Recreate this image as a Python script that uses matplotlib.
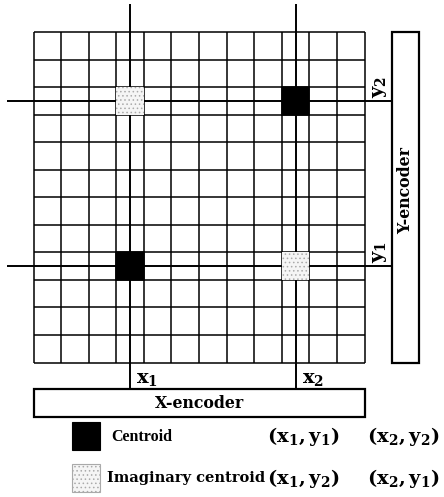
import matplotlib
matplotlib.use("Agg")
import matplotlib.pyplot as plt
from matplotlib.patches import Rectangle

plt.rcParams['mathtext.fontset'] = 'dejavuserif'
plt.rcParams['hatch.linewidth'] = 0.6

# ---- data ----
n_cols = 12
n_rows = 12
x_cols = [3, 9]          # column index of x1, x2
y_rows = [8, 2]          # row index (from top) of y1, y2
centroids = [(0, 0), (1, 1)]      # (x index, y index): (x1,y1), (x2,y2)
imaginary = [(0, 1), (1, 0)]      # (x1,y2), (x2,y1)
legend_labels = ['Centroid', 'Imaginary centroid']
legend_pairs = [[r'$\mathbf{(x_1,y_1)}$', r'$\mathbf{(x_2,y_2)}$'],
                [r'$\mathbf{(x_1,y_2)}$', r'$\mathbf{(x_2,y_1)}$']]

# ---- layout ----
W, H = 444, 497
fig = plt.figure(figsize=(W / 100, H / 100), dpi=100)
ax = fig.add_axes([0, 0, 1, 1])
ax.set_xlim(0, W)
ax.set_ylim(H, 0)
ax.axis('off')

gx0, gy0 = 33.5, 32.0
gx1, gy1 = 364.5, 362.5
cw = (gx1 - gx0) / n_cols
ch = (gy1 - gy0) / n_rows
lw = 1.1

def cx(i):
    return gx0 + (x_cols[i] + 0.5) * cw

def cy(j):
    return gy0 + (y_rows[j] + 0.5) * ch

# cells (drawn on top of lines)
for (i, j) in centroids:
    ax.add_patch(Rectangle((gx0 + x_cols[i] * cw, gy0 + y_rows[j] * ch), cw, ch,
                           facecolor='black', edgecolor='black', lw=lw, zorder=8))
for (i, j) in imaginary:
    ax.add_patch(Rectangle((gx0 + x_cols[i] * cw, gy0 + y_rows[j] * ch), cw, ch,
                           facecolor='#f5f5f5', edgecolor='#aaaaaa', hatch='....', lw=0, zorder=8))

# grid
for k in range(n_cols + 1):
    x = gx0 + k * cw
    ax.plot([x, x], [gy0, gy1], color='black', lw=lw, zorder=2, solid_capstyle='butt')
for k in range(n_rows + 1):
    y = gy0 + k * ch
    ax.plot([gx0, gx1], [y, y], color='black', lw=lw, zorder=2, solid_capstyle='butt')

# encoder boxes
yb = (392, 419)
xb = (389, 417)
ax.add_patch(Rectangle((yb[0], gy0), yb[1] - yb[0], gy1 - gy0, facecolor='white',
                       edgecolor='black', lw=1.6, zorder=4))
ax.add_patch(Rectangle((gx0, xb[0]), gx1 - gx0, xb[1] - xb[0], facecolor='white',
                       edgecolor='black', lw=1.6, zorder=4))
ax.text((yb[0] + yb[1]) / 2 + 0.5, 190, 'Y-encoder', rotation=90, ha='center', va='center',
        family='DejaVu Serif', weight='bold', fontsize=11.3, zorder=5)
ax.text((gx0 + gx1) / 2, (xb[0] + xb[1]) / 2, 'X-encoder', ha='center', va='center',
        family='DejaVu Serif', weight='bold', fontsize=11.3, zorder=5)

# selection lines
for i in range(2):
    x = cx(i)
    ax.plot([x, x], [4, xb[0]], color='black', lw=1.4, zorder=6, solid_capstyle='butt')
    ax.text(x + 6, 378, r'$\mathbf{x_%d}$' % (i + 1), ha='left', va='center',
            fontsize=14, zorder=6)
for j in range(2):
    y = cy(j)
    ax.plot([7, yb[0]], [y, y], color='black', lw=1.4, zorder=6, solid_capstyle='butt')
    ax.text(379, y - 14, r'$\mathbf{y_%d}$' % (j + 1), rotation=90, ha='center', va='center',
            fontsize=14, zorder=6)

# legend
ax.add_patch(Rectangle((72, 422), 28, 28, facecolor='black', edgecolor='black', lw=0.8))
ax.add_patch(Rectangle((72, 464), 28, 28, facecolor='#f5f5f5', edgecolor='#aaaaaa',
                       hatch='....', lw=0.8))
ax.text(111, 437, legend_labels[0], ha='left', va='center', family='Liberation Serif',
        weight='bold', fontsize=11.5)
ax.text(107, 478, legend_labels[1], ha='left', va='center', family='DejaVu Serif',
        weight='bold', fontsize=10.5)
rows_y = [437, 478]
for r in range(2):
    ax.text(303, rows_y[r], legend_pairs[r][0], ha='center', va='center', fontsize=14)
    ax.text(403, rows_y[r], legend_pairs[r][1], ha='center', va='center', fontsize=14)

fig.savefig('out.png', dpi=100)
